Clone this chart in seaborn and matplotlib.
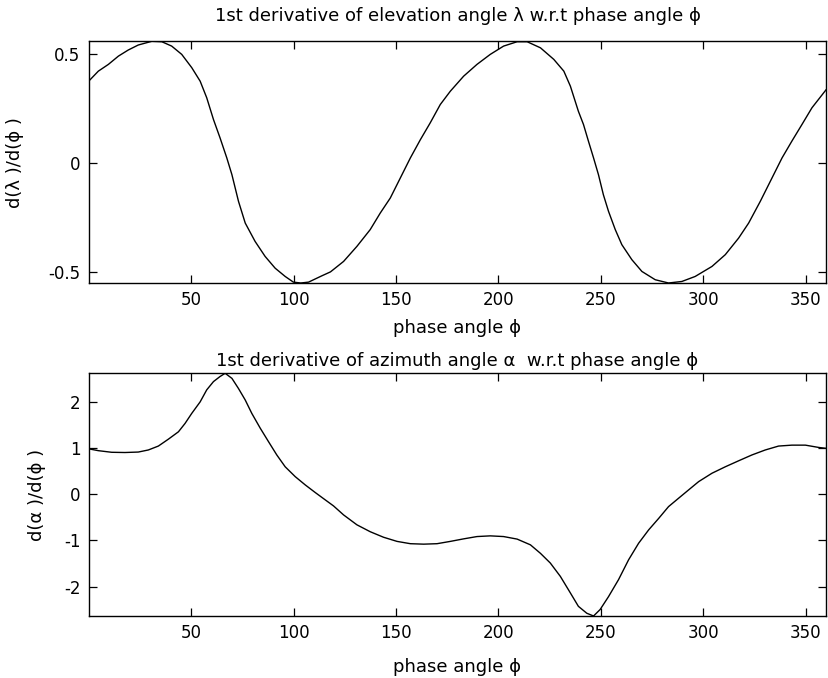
import matplotlib
matplotlib.use("Agg")
import matplotlib.pyplot as plt
import seaborn as sns
import pandas as pd

# ---------------- data ----------------
phase_elev = [0, 4.7, 9.6, 14.5, 19.3, 24.2, 30.8, 35.7, 40.5, 45.4, 50.3, 54.4, 57.6,
              60.9, 64.1, 67.4, 69.9, 73.1, 76.4, 81.2, 86.1, 91.0, 95.9, 99.9, 103.5,
              107.3, 113.8, 118.0, 124.4, 130.9, 137.4, 142.3, 147.2, 152.1, 157.0,
              161.9, 166.7, 171.6, 176.5, 183.0, 189.5, 196.0, 202.5, 209.1, 214.0,
              220.5, 227.0, 231.9, 235.1, 239.0, 241.5, 243.9, 246.4, 248.8, 251.2,
              253.7, 257.0, 260.2, 265.1, 270.0, 276.5, 283.0, 289.5, 296.0, 304.2,
              310.7, 317.2, 322.1, 327.8, 333.5, 338.4, 343.2, 348.1, 353.0, 360.0]
d_elev = [0.375, 0.421, 0.452, 0.490, 0.518, 0.541, 0.558, 0.556, 0.536, 0.498, 0.437,
          0.375, 0.299, 0.199, 0.115, 0.023, -0.054, -0.176, -0.276, -0.360, -0.429,
          -0.483, -0.521, -0.547, -0.551, -0.547, -0.518, -0.500, -0.452, -0.383,
          -0.306, -0.230, -0.161, -0.069, 0.023, 0.107, 0.184, 0.268, 0.329, 0.398,
          0.452, 0.498, 0.536, 0.556, 0.556, 0.528, 0.475, 0.421, 0.352, 0.237,
          0.176, 0.100, 0.023, -0.054, -0.146, -0.222, -0.306, -0.375, -0.444,
          -0.498, -0.536, -0.551, -0.544, -0.521, -0.475, -0.421, -0.345, -0.276,
          -0.176, -0.069, 0.023, 0.100, 0.176, 0.253, 0.337]

phase_azim = [0, 4.7, 11.2, 17.7, 24.2, 29.1, 34.0, 38.9, 43.8, 47.0, 50.3, 54.4, 57.6,
              60.9, 64.1, 66.6, 69.9, 73.1, 76.4, 79.6, 83.7, 87.7, 91.8, 95.9, 100.8,
              105.7, 110.6, 115.5, 119.5, 124.4, 130.9, 137.4, 143.9, 150.5, 157.0,
              163.5, 170.0, 176.5, 183.0, 189.5, 196.0, 202.5, 209.1, 215.6, 220.5,
              225.3, 230.2, 235.1, 239.0, 243.1, 246.4, 249.6, 253.7, 258.6, 263.5,
              268.4, 273.3, 278.2, 283.0, 287.9, 292.8, 297.7, 304.2, 310.7, 317.2,
              323.7, 330.2, 336.7, 343.2, 349.8, 356.3, 360.0]
d_azim = [0.99, 0.95, 0.915, 0.91, 0.92, 0.965, 1.05, 1.20, 1.36, 1.54, 1.76, 2.01, 2.27,
          2.45, 2.56, 2.63, 2.52, 2.30, 2.05, 1.76, 1.44, 1.15, 0.857, 0.60, 0.386,
          0.206, 0.04, -0.12, -0.25, -0.445, -0.66, -0.81, -0.93, -1.02, -1.07, -1.08,
          -1.07, -1.02, -0.965, -0.915, -0.90, -0.915, -0.97, -1.095, -1.28, -1.49,
          -1.78, -2.14, -2.43, -2.58, -2.64, -2.50, -2.22, -1.85, -1.42, -1.06, -0.77,
          -0.52, -0.265, -0.083, 0.098, 0.278, 0.46, 0.60, 0.73, 0.857, 0.965, 1.05,
          1.07, 1.07, 1.02, 1.00]

x_ticks = [50, 100, 150, 200, 250, 300, 350]
elev_yticks = [-0.5, 0, 0.5]
elev_yticklabels = ["-0.5", "0", "0.5"]
azim_yticks = [-2, -1, 0, 1, 2]
azim_yticklabels = ["-2", "-1", "0", "1", "2"]

title_elev = "1st derivative of elevation angle \u03bb w.r.t phase angle \u03d5"
title_azim = "1st derivative of azimuth angle \u03b1  w.r.t phase angle \u03d5"
ylabel_elev = "d(\u03bb )/d(\u03d5 )"
ylabel_azim = "d(\u03b1 )/d(\u03d5 )"
xlabel = "phase angle \u03d5"

# ---------------- styling ----------------
sns.set_style("ticks", {"xtick.direction": "in", "ytick.direction": "in"})
plt.rcParams["font.family"] = ["DejaVu Sans"]
plt.rcParams["axes.unicode_minus"] = False
FS_TICK = 12
FS_LAB = 13

fig = plt.figure(figsize=(8.29, 6.78), dpi=100)
W, H = 829, 678
left, right = 88.7, 826.3
ax1 = fig.add_axes([left / W, 1 - 283 / H, (right - left) / W, (283 - 41.3) / H])
ax2 = fig.add_axes([left / W, 1 - 616 / H, (right - left) / W, (616 - 373.3) / H])

df1 = pd.DataFrame({"phase": phase_elev, "d": d_elev})
df2 = pd.DataFrame({"phase": phase_azim, "d": d_azim})

sns.lineplot(data=df1, x="phase", y="d", ax=ax1, color="black", linewidth=1.0)
sns.lineplot(data=df2, x="phase", y="d", ax=ax2, color="black", linewidth=1.0)

for ax, yt, ytl, title, ylab, tpad, xpad, ylx in [
    (ax1, elev_yticks, elev_yticklabels, title_elev, ylabel_elev, 14.5, 7.3, -0.088),
    (ax2, azim_yticks, azim_yticklabels, title_azim, ylabel_azim, 5.5, 11.5, -0.058),
]:
    ax.set_xlim(0, 360)
    ax.set_ylim(min(ax.lines[0].get_ydata()), max(ax.lines[0].get_ydata()))
    ax.set_xticks(x_ticks)
    ax.set_xticklabels([str(t) for t in x_ticks])
    ax.set_yticks(yt)
    ax.set_yticklabels(ytl)
    ax.tick_params(axis="both", which="both", direction="in", length=6, width=0.9,
                   top=True, right=True, labelsize=FS_TICK, colors="black", pad=6)
    for s in ax.spines.values():
        s.set_visible(True)
        s.set_linewidth(1.0)
        s.set_color("black")
    ax.set_title(title, fontsize=FS_LAB, pad=tpad, color="black")
    ax.set_xlabel(xlabel, fontsize=FS_LAB, labelpad=xpad, color="black")
    ax.set_ylabel(ylab, fontsize=FS_LAB, color="black")
    ax.yaxis.set_label_coords(ylx, 0.5)
    ax.grid(False)

fig.savefig("out.png", dpi=100, facecolor="white")
